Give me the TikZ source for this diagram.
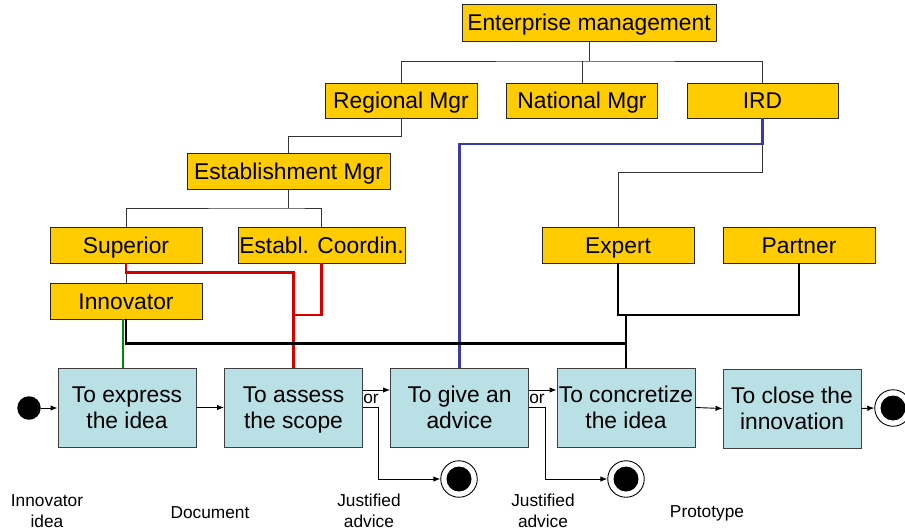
\documentclass[tikz,border=0pt]{standalone}
\usepackage{fontspec}
\setmainfont{Liberation Sans}
\usetikzlibrary{arrows.meta,calc}
\definecolor{orgfill}{HTML}{FFCC00}
\definecolor{procfill}{HTML}{B9E0E4}
\definecolor{redlink}{HTML}{D40000}
\definecolor{bluelink}{HTML}{3A3AA8}
\definecolor{greenlink}{HTML}{008A00}
% last line of a step label: keep descenders out of the vertical centring
\newcommand{\lastline}[1]{\raisebox{0pt}[\height][0pt]{#1}}
\tikzset{
  orgbox/.style={draw=black!85, line width=0.9pt, fill=orgfill, minimum height=36pt,
    inner sep=0pt, text height=16.4pt, text depth=0pt, font=\fontsize{22.8}{26}\selectfont},
  procbox/.style={draw=black!75, line width=0.9pt, fill=procfill, minimum width=138pt,
    minimum height=79pt, inner sep=0pt, align=center, font=\fontsize{22.8}{26}\selectfont},
  link/.style={draw=black!80, line width=0.9pt},
  bus/.style={draw=black, line width=2.6pt},
  redline/.style={draw=redlink, line width=2.2pt},
  blueline/.style={draw=bluelink, line width=2.2pt},
  greenline/.style={draw=greenlink, line width=2.2pt},
  arr/.style={draw=black, line width=0.9pt, -{Latex[length=7pt,width=5.5pt]}},
  lbl/.style={font=\fontsize{17.3}{20.5}\selectfont, align=center, inner sep=0pt},
  startdot/.style={circle, fill=black, minimum size=23.5pt, inner sep=0pt},
  endring/.style={circle, draw=black, line width=0.9pt, fill=white, minimum size=36.5pt,
    inner sep=0pt, path picture={\fill[black] (path picture bounding box.center) circle (12.5pt);}}
}
\begin{document}
\begin{tikzpicture}[x=1pt,y=-1pt]
\useasboundingbox (0,0) rectangle (905,531);

% organisation chart
\node[orgbox, minimum width=254pt, minimum height=37pt] (ent) at (589,22.5) {Enterprise management};
\node[orgbox, minimum width=152pt, minimum height=35pt] (reg) at (401,100.5) {Regional Mgr};
\node[orgbox, minimum width=151pt, minimum height=35pt] (nat) at (582,100.5) {National Mgr};
\node[orgbox, minimum width=151pt, minimum height=35pt] (ird) at (762.5,100.5) {IRD};
\node[orgbox, minimum width=203pt] (est) at (288.5,171) {Establishment Mgr};
\node[orgbox, minimum width=152pt] (sup) at (126,245) {Superior};
\node[orgbox, minimum width=167pt] (coo) at (321.5,245) {Establ. Coordin.};
\node[orgbox, minimum width=152pt] (inn) at (126,301) {Innovator};
\node[orgbox, minimum width=152pt] (exp) at (618,245) {Expert};
\node[orgbox, minimum width=152pt] (par) at (799,245) {Partner};

% process steps
\node[procbox] (p1) at (127,407.5) {To express\\\lastline{the idea}};
\node[procbox] (p2) at (293.5,407.5) {To assess\\\lastline{the scope}};
\node[procbox] (p3) at (459.5,407.5) {To give an\\\lastline{advice}};
\node[procbox] (p4) at (626,407.5) {To concretize\\\lastline{the idea}};
\node[procbox] (p5) at (792,408.5) {To close the\\\lastline{innovation}};

\node[startdot] (start) at (29,408) {};
\node[endring] (e1) at (459,479) {};
\node[endring] (e2) at (626,479) {};
\node[endring] (e3) at (893,408) {};

% hierarchy links
\coordinate (topbar) at (589,61);
\draw[link] (ent.south) -- (topbar);
\draw[link] (reg.north) |- (topbar) -| (ird.north);
\draw[link] (nat.north) -- (nat.north |- topbar);
\coordinate (regbar) at (288.5,136);
\draw[link] (reg.south) |- (regbar) -- (est.north);
\coordinate (estbar) at (288.5,208);
\draw[link] (est.south) -- (estbar);
\draw[link] (sup.north) |- (estbar) -| (coo.north);
\draw[link] (sup.south) -- (inn.north);
\coordinate (irdbar) at (762.5,172);
\draw[link] (ird.south) -- (irdbar) -| (exp.north);

% involvement links
\coordinate (bluebend) at (762.5,144);
\draw[blueline] (ird.south) -- (bluebend) -| (p3.north);
\coordinate (redbend) at (293.5,272.5);
\coordinate (redjoin) at (293.5,315);
\draw[redline] (sup.south) |- (redbend) -- (p2.north);
\draw[redline] (coo.south) |- (redjoin);
\draw[greenline] ([xshift=-3pt]inn.south) -- ([xshift=-3pt]inn.south |- p1.north);
\coordinate (busend) at (626,343.5);
\coordinate (expbar) at (626,315);
\draw[bus] (inn.south) |- (busend);
\draw[bus] (exp.south) -- (exp.south |- expbar) -| (par.south);
\draw[bus] (expbar) -- (p4.north);

% process flow
\draw[arr] (start.east) -- (start.east -| p1.west);
\draw[arr] (p1.east) -- (p2.west);
\draw[arr] ([yshift=17.5pt]p2.east) -- ([yshift=17.5pt]p3.west);
\draw[arr] (p2.east) -- ++(15,0) |- (e1.west);
\draw[arr] ([yshift=17.5pt]p3.east) -- ([yshift=17.5pt]p4.west);
\draw[arr] (p3.east) -- ++(16,0) |- (e2.west);
\draw[arr] (p4.east) -- (p5.west);
\draw[arr] (p5.east) -- (e3.west);
\node[lbl] (or1) at (371,399) {or};
\node[lbl] (or2) at (537,399) {or};

% deliverables
\node[lbl] (d1) at (47,511) {Innovator\\idea};
\node[lbl] (d2) at (210,513) {Document};
\node[lbl] (d3) at (369,511) {Justified\\advice};
\node[lbl] (d4) at (543,511) {Justified\\advice};
\node[lbl] (d5) at (707,513) {Prototype};
\end{tikzpicture}
\end{document}
